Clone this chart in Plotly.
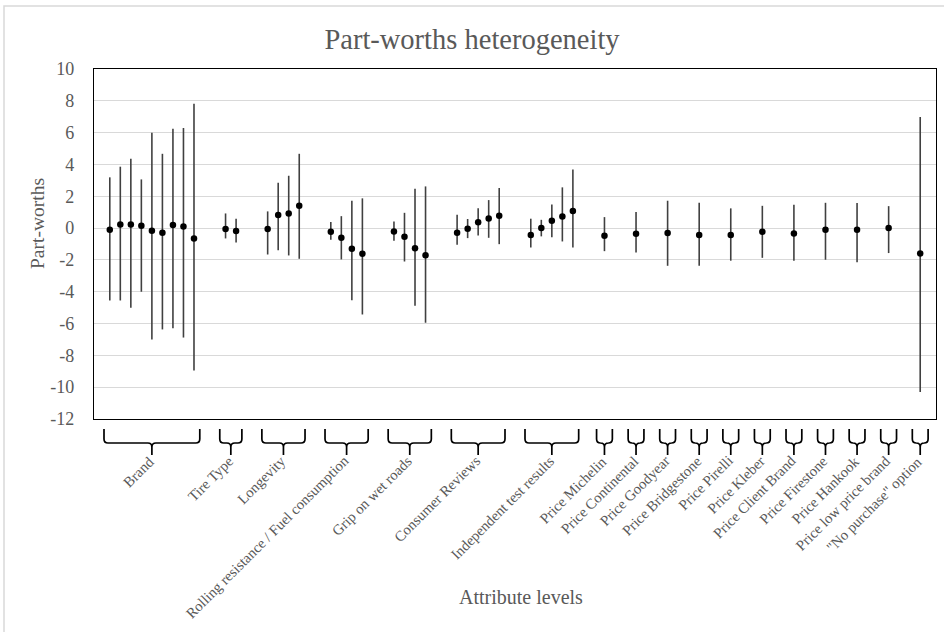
import plotly.graph_objects as go

# ---------------- data ----------------
group_names = [
    "Brand", "Tire Type", "Longevity", "Rolling resistance / Fuel consumption",
    "Grip on wet roads", "Consumer Reviews", "Independent test results",
    "Price Michelin", "Price Continental", "Price Goodyear", "Price Bridgestone",
    "Price Pirelli", "Price Kleber", "Price Client Brand", "Price Firestone",
    "Price Hankook", "Price low price brand", '"No purchase" option',
]
group_sizes = [9, 2, 4, 4, 4, 5, 5, 1, 1, 1, 1, 1, 1, 1, 1, 1, 1, 1]

part_worth_mean = [
    -0.10, 0.23, 0.23, 0.15, -0.17, -0.29, 0.19, 0.10, -0.65,   # Brand
    -0.06, -0.19,                                              # Tire Type
    -0.06, 0.82, 0.92, 1.40,                                   # Longevity
    -0.23, -0.61, -1.30, -1.61,                                # Rolling resistance
    -0.21, -0.55, -1.26, -1.70,                                # Grip
    -0.29, -0.04, 0.36, 0.61, 0.78,                            # Consumer Reviews
    -0.44, 0.00, 0.46, 0.73, 1.07,                             # Independent tests
    -0.48, -0.36, -0.31, -0.44, -0.44, -0.23, -0.34, -0.10, -0.10, 0.00, -1.59,
]
part_worth_upper = [
    3.19, 3.86, 4.36, 3.06, 6.00, 4.67, 6.25, 6.29, 7.82,
    0.92, 0.59,
    1.05, 2.85, 3.29, 4.67,
    0.38, 0.75, 1.72, 1.87,
    0.42, 0.96, 2.47, 2.62,
    0.84, 0.57, 1.24, 1.76, 2.52,
    0.59, 0.52, 1.49, 2.56, 3.69,
    0.69, 1.01, 1.72, 1.59, 1.24, 1.40, 1.47, 1.59, 1.57, 1.38, 6.98,
]
part_worth_lower = [
    -4.55, -4.55, -5.01, -4.00, -7.00, -6.37, -6.29, -6.88, -8.95,
    -0.65, -0.90,
    -1.66, -1.40, -1.72, -1.93,
    -0.73, -1.97, -4.53, -5.43,
    -0.80, -2.10, -4.88, -5.95,
    -1.05, -0.63, -0.46, -0.61, -1.01,
    -1.22, -0.52, -0.57, -0.84, -1.22,
    -1.45, -1.53, -2.37, -2.37, -2.05, -1.87, -2.05, -1.99, -2.14, -1.57, -10.31,
]
y_tick_vals = [10, 8, 6, 4, 2, 0, -2, -4, -6, -8, -10, -12]

# ---------------- layout helpers ----------------
W, H = 944, 632
ML, MR, MT, MB = 94, 8, 69, 213
PH = H - MT - MB
PW = W - ML - MR
GAP = 3  # category slots between groups


def py(pix):  # pixel row -> paper y
    return (H - MB - pix) / PH


def px(pix):  # pixel col -> paper x
    return (pix - ML) / PW


# x positions for each level, group extents
xs, spans = [], []
pos = 0
for n in group_sizes:
    first = pos
    for k in range(n):
        xs.append(pos)
        pos += 1
    last = pos - 1
    spans.append((first, last))
    pos = last + GAP

x_min, x_max = -1.5, xs[-1] + 1.5
slot_px = PW / (x_max - x_min)

fig = go.Figure()
fig.add_trace(go.Scatter(
    x=xs, y=part_worth_mean, mode="markers",
    marker=dict(color="black", size=6.5),
    error_y=dict(
        type="data", symmetric=False,
        array=[u - m for u, m in zip(part_worth_upper, part_worth_mean)],
        arrayminus=[m - l for m, l in zip(part_worth_mean, part_worth_lower)],
        color="#404040", thickness=1.6, width=0,
    ),
    showlegend=False, hoverinfo="skip",
))

shapes = []
annotations = []
y_top, y_h, y_bot = py(429), py(443), py(455)
ry = 4 / PH
rx = 4 / slot_px
for (first, last), name in zip(spans, group_names):
    pad = 0.55 if last > first else 0.75
    xl, xr = first - pad, last + pad
    xc = (first + last) / 2
    path = (
        f"M {xl},{y_top} L {xl},{y_h + ry} Q {xl},{y_h} {xl + rx},{y_h} "
        f"L {xc - rx},{y_h} Q {xc},{y_h} {xc},{y_h - ry} L {xc},{y_bot} "
        f"M {xr},{y_top} L {xr},{y_h + ry} Q {xr},{y_h} {xr - rx},{y_h} "
        f"L {xc + rx},{y_h} Q {xc},{y_h} {xc},{y_h - ry}"
    )
    shapes.append(dict(type="path", path=path, xref="x", yref="paper",
                       line=dict(color="black", width=1.7)))
    annotations.append(dict(
        text=name, x=xc + 8 / slot_px, y=py(450), xref="x", yref="paper",
        xanchor="right", yanchor="top", textangle=-45, showarrow=False,
        font=dict(family="Liberation Serif", size=14.7, color="#595959"),
    ))

# outer chart border (light grey)
shapes.append(dict(type="rect", xref="paper", yref="paper",
                   x0=px(4), x1=px(W + 20), y0=py(H + 20), y1=py(6),
                   line=dict(color="#d9d9d9", width=1.5), layer="below"))

annotations.append(dict(
    text="Attribute levels", x=px(521), y=py(597), xref="paper", yref="paper",
    xanchor="center", yanchor="middle", showarrow=False,
    font=dict(family="Liberation Serif", size=20, color="#595959"),
))
annotations.append(dict(
    text="Part-worths", x=px(37), y=py(224), xref="paper", yref="paper",
    xanchor="center", yanchor="middle", showarrow=False, textangle=-90,
    font=dict(family="Liberation Serif", size=19.5, color="#595959"),
))

fig.update_layout(
    width=W, height=H,
    margin=dict(l=ML, r=MR, t=MT, b=MB),
    paper_bgcolor="white", plot_bgcolor="white",
    title=dict(text="Part-worths heterogeneity", x=0.5, xref="container",
               y=1 - 39 / H, yref="container", xanchor="center", yanchor="middle",
               font=dict(family="Liberation Serif", size=28.5, color="#595959")),
    shapes=shapes, annotations=annotations,
    xaxis=dict(range=[x_min, x_max], showgrid=False, zeroline=False,
               showticklabels=False, ticks="",
               showline=True, linecolor="black", linewidth=1.2, mirror=True),
    yaxis=dict(range=[-12, 10], tickvals=y_tick_vals,
               ticktext=[str(v) for v in y_tick_vals],
               showgrid=True, gridcolor="#d9d9d9", gridwidth=1, zeroline=False,
               ticks="", ticklabelstandoff=15,
               tickfont=dict(family="Liberation Serif", size=18, color="#595959"),
               showline=True, linecolor="black", linewidth=1.2, mirror=True),
)

fig.write_html(
    "out.html",
    config={"displayModeBar": False},
    post_script="document.body.style.margin='0';document.body.style.overflow='hidden';",
)
